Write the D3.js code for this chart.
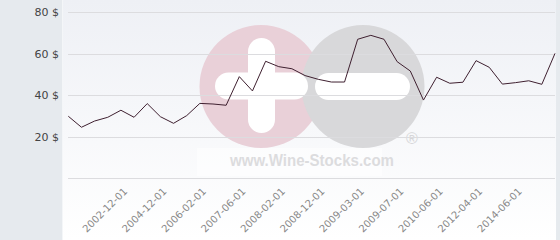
<!DOCTYPE html>
<html><head><meta charset="utf-8">
<script src="https://cdn.jsdelivr.net/npm/d3@7"></script>
<style>html,body{margin:0;padding:0;background:#fff;}svg{display:block;}</style>
</head><body>
<script>
// ---- data ----
const values = [29.9, 24.6, 27.6, 29.4, 32.8, 29.4, 36.0, 29.7, 26.5, 30.2,
                36.1, 35.8, 35.2, 49.0, 42.1, 56.4, 53.8, 52.8, 49.5, 47.7,
                46.4, 46.4, 67.0, 68.9, 67.0, 56.2, 51.7, 37.7, 48.7, 45.8,
                46.3, 56.7, 53.5, 45.4, 46.1, 47.0, 45.3, 60.2];
const categories = [null, null, null, null, "2002-12-01", null, null, "2004-12-01", null, null,
                    "2006-02-01", null, null, "2007-06-01", null, null, "2008-02-01", null, null, "2008-12-01",
                    null, null, "2009-03-01", null, null, "2009-07-01", null, null, "2010-06-01", null,
                    null, "2012-04-01", null, null, "2014-06-01", null, null, null];
const yTicks = [0, 20, 40, 60, 80];
const yTickLabels = ["", "20 $", "40 $", "60 $", "80 $"];
const watermarkText = "www.Wine-Stocks.com";

// ---- chart ----
const W = 560, H = 240;
const svg = d3.select("body").append("svg").attr("width", W).attr("height", H);
const defs = svg.append("defs");
const grad = defs.append("linearGradient").attr("id", "bg").attr("x1", 0).attr("y1", 0).attr("x2", 0).attr("y2", 1);
grad.append("stop").attr("offset", "0%").attr("stop-color", "#eef0f5");
grad.append("stop").attr("offset", "100%").attr("stop-color", "#ffffff");

// left panel & right edge
svg.append("rect").attr("x", 0).attr("y", 0).attr("width", W).attr("height", H).attr("fill", "#e6eaee");
svg.append("rect").attr("x", 63).attr("y", 0).attr("width", 493).attr("height", H).attr("fill", "url(#bg)");
svg.append("line").attr("x1", 62.5).attr("x2", 62.5).attr("y1", 0).attr("y2", H).attr("stroke", "#f4f6f8");

const x = d3.scalePoint().domain(d3.range(values.length)).range([68.3, 555]);
const y = d3.scaleLinear().domain([0, 80]).range([178.3, 12.3]);

// watermark
const wm = svg.append("g").attr("class", "watermark");
wm.append("rect").attr("x", 197).attr("y", 148).attr("width", 185).attr("height", 28).attr("fill", "#ffffff").attr("opacity", 0.5);
wm.append("circle").attr("cx", 261).attr("cy", 86.5).attr("r", 61.5).attr("fill", "#e9d0d8");
wm.append("circle").attr("cx", 363).attr("cy", 86.5).attr("r", 61.5).attr("fill", "#d8d8da");
wm.append("rect").attr("x", 248).attr("y", 38).attr("width", 27).attr("height", 95).attr("rx", 13.5).attr("fill", "#ffffff");
wm.append("rect").attr("x", 215).attr("y", 72.5).attr("width", 93).attr("height", 27).attr("rx", 13.5).attr("fill", "#ffffff");
wm.append("rect").attr("x", 315).attr("y", 73).attr("width", 95).attr("height", 27).attr("rx", 13.5).attr("fill", "#ffffff");
wm.append("text").attr("x", 412).attr("y", 144).attr("text-anchor", "middle")
  .attr("font-family", "Liberation Sans, Arial, sans-serif").attr("font-size", 16)
  .attr("fill", "#d6d6d8").text("®");
wm.append("text").attr("x", 230).attr("y", 166).attr("textLength", 164).attr("lengthAdjust", "spacingAndGlyphs")
  .attr("font-family", "Liberation Sans, Arial, sans-serif").attr("font-weight", "bold").attr("font-size", 16)
  .attr("fill", "#dcdcde").text(watermarkText);

// gridlines
svg.append("g").selectAll("line").data(yTicks).join("line")
  .attr("x1", 68).attr("x2", 555)
  .attr("y1", d => Math.round(y(d)) + 0.5).attr("y2", d => Math.round(y(d)) + 0.5)
  .attr("stroke", "#dcdcdf").attr("stroke-width", 1);

// y labels
svg.append("g").selectAll("text").data(yTicks).join("text")
  .attr("x", 59).attr("y", d => y(d) + 4)
  .attr("text-anchor", "end")
  .attr("font-family", "DejaVu Sans, sans-serif").attr("font-size", 11)
  .attr("fill", "#444").text((d, i) => yTickLabels[i]);

// x labels
const xl = categories.map((c, i) => ({c, i})).filter(d => d.c);
svg.append("g").selectAll("text").data(xl).join("text")
  .attr("transform", d => `translate(${x(d.i) + 7},${192}) rotate(-45)`)
  .attr("text-anchor", "end")
  .attr("font-family", "DejaVu Sans, sans-serif").attr("font-size", 10)
  .attr("fill", "#888").text(d => d.c);

// line
const line = d3.line().x((d, i) => x(i)).y(d => y(d));
svg.append("path").datum(values).attr("d", line)
  .attr("fill", "none").attr("stroke", "#3f2030").attr("stroke-width", 1);
</script>
</body></html>
